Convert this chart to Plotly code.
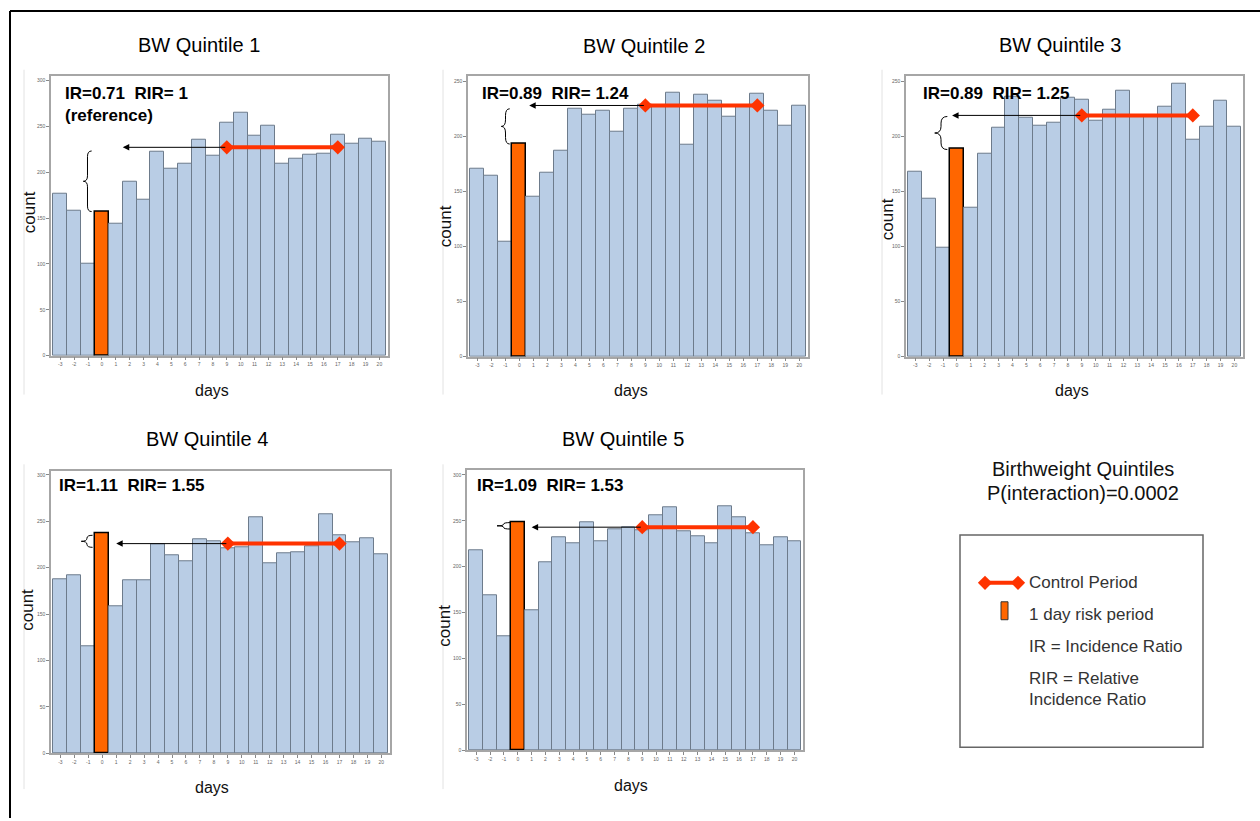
import plotly.graph_objects as go

W, H = 1260, 821

# ---------------- data ----------------
days = list(range(-3, 21))
day_labels = [str(d) for d in days]

q1 = [176, 158, 100, 157, 144, 190, 170, 222, 204, 209, 235, 218, 254, 265, 240, 251, 209, 215, 219, 220, 241, 231, 236, 233]
q2 = [171, 164, 104, 193, 145, 167, 187, 225, 220, 223, 204, 225, 229, 228, 240, 192, 238, 232, 218, 228, 239, 223, 210, 228]
q3 = [168, 143, 99, 189, 135, 184, 208, 236, 217, 210, 212, 235, 233, 214, 224, 241, 218, 218, 227, 248, 197, 209, 232, 209]
q4 = [188, 192, 115, 237, 158, 187, 187, 225, 213, 207, 231, 229, 221, 222, 254, 205, 216, 217, 223, 258, 235, 227, 232, 214]
q5 = [218, 169, 124, 248, 152, 205, 232, 226, 248, 228, 241, 243, 240, 256, 265, 239, 233, 226, 266, 254, 236, 223, 232, 228]
quintile_counts = [q1, q2, q3, q4, q5]

titles = ["BW Quintile 1", "BW Quintile 2", "BW Quintile 3", "BW Quintile 4", "BW Quintile 5"]
ir_text = ["IR=0.71  RIR= 1<br>(reference)", "IR=0.89  RIR= 1.24", "IR=0.89  RIR= 1.25",
           "IR=1.11  RIR= 1.55", "IR=1.09  RIR= 1.53"]
y_max = [305, 255, 255, 304, 305]
y_ticks = [[0, 50, 100, 150, 200, 250, 300], [0, 50, 100, 150, 200, 250],
           [0, 50, 100, 150, 200, 250], [0, 50, 100, 150, 200, 250, 300],
           [0, 50, 100, 150, 200, 250, 300]]

risk_day = 0
control_start = [9, 9, 9, 9, 9]
control_end = [17, 17, 17, 17, 17]
control_level = [227, 228, 219, 226, 243]
arrow_head_x = [1.5, 0.7, -0.35, 1.0, 1.0]
brace_top = [223, 225, 218, 235, 248]
brace_bottom = [157, 193, 188, 222, 241]
brace_left = [-1.34, -1.29, -1.6, -1.5, -1.5]
brace_right = [-0.74, -0.69, -0.69, -0.69, -0.55]

# ---------------- layout geometry (pixels) ----------------
panels = [  # left, right, top, bottom of plot frame
    (51, 388, 76, 357),
    (468, 808, 76, 358),
    (906, 1243, 76, 358),
    (51, 390, 473, 756),
    (467, 803, 472, 753),
]
title_pos = [(199, 45), (644, 46), (1060, 45), (207, 441), (623, 441)]
days_pos = [(212, 392), (631, 392), (1072, 392), (212, 790), (631, 788)]
count_pos = [(29, 213), (445, 227), (887, 220), (28, 612), (445, 628)]
ir_pos = [(63, 82), (480, 82), (921, 82), (57, 476), (475, 476)]  # top-left of text block
side_lines = [(24, 70, 396), (443, 70, 396), (882, 70, 396), (24, 466, 792), (443, 466, 792)]

BLUE = "#b9cde5"
BLUE_EDGE = "#6d7b8b"
ORANGE = "#ff6600"
RED = "#ff3300"
FONT = "Liberation Sans, Arial, sans-serif"


def px(x):
    return x / W


def py(y):
    return 1 - y / H


def text_ann(x, y, text, size, color="#000", xanchor="center", angle=0, yanchor="middle"):
    return dict(x=px(x), y=py(y), xref="paper", yref="paper", text=text,
                xanchor=xanchor, yanchor=yanchor, textangle=angle, showarrow=False,
                align="left", font=dict(size=size, family=FONT, color=color))


fig = go.Figure()
annotations = []
shapes = []

for i, counts in enumerate(quintile_counts):
    n = i + 1
    xa = "x" if n == 1 else f"x{n}"
    ya = "y" if n == 1 else f"y{n}"
    l, r, t, b = panels[i]
    colors = [ORANGE if d == risk_day else BLUE for d in days]
    edges = ["#000000" if d == risk_day else BLUE_EDGE for d in days]
    widths = [1.5 if d == risk_day else 1 for d in days]
    fig.add_trace(go.Bar(
        x=days, y=counts, xaxis=xa, yaxis=ya,
        marker=dict(color=colors, line=dict(color=edges, width=widths)),
        hoverinfo="x+y",
    ))
    # control period
    fig.add_trace(go.Scatter(
        x=[control_start[i], control_end[i]], y=[control_level[i], control_level[i]],
        xaxis=xa, yaxis=ya, mode="lines+markers",
        line=dict(color=RED, width=4),
        marker=dict(symbol="diamond", size=11, color=RED),
        cliponaxis=False,
    ))
    axis_common = dict(showline=True, mirror=True, linecolor="#a6a6a6", linewidth=1.5,
                       ticks="outside", ticklen=3, tickcolor="#888", showgrid=False,
                       zeroline=False, tickfont=dict(size=5, color="#666", family=FONT))
    fig.update_layout(**{
        ("xaxis" if n == 1 else f"xaxis{n}"): dict(
            domain=[px(l), px(r)], anchor=ya, range=[-3.67, 20.62],
            tickmode="array", tickvals=days, ticktext=day_labels, **axis_common),
        ("yaxis" if n == 1 else f"yaxis{n}"): dict(
            domain=[py(b), py(t)], anchor=xa, range=[0, y_max[i]],
            tickmode="array", tickvals=y_ticks[i], **axis_common),
    })
    # arrow from control period to risk period
    annotations.append(dict(
        x=arrow_head_x[i], y=control_level[i], ax=control_start[i], ay=control_level[i],
        xref=xa, yref=ya, axref=xa, ayref=ya, text="", showarrow=True,
        arrowhead=2, arrowsize=1.3, arrowwidth=1, arrowcolor="#000"))
    # brace
    xl, xr = brace_left[i], brace_right[i]
    xm = (xl + xr) / 2
    yt, yb = brace_top[i], brace_bottom[i]
    ym = (yt + yb) / 2
    d = min(6, (yt - yb) / 4)
    path = (f"M {xr},{yt} Q {xm},{yt} {xm},{yt - d} L {xm},{ym + d} "
            f"Q {xm},{ym} {xl},{ym} Q {xm},{ym} {xm},{ym - d} "
            f"L {xm},{yb + d} Q {xm},{yb} {xr},{yb}")
    shapes.append(dict(type="path", path=path, xref=xa, yref=ya,
                       line=dict(color="#000", width=1)))
    # texts
    tx, ty = title_pos[i]
    annotations.append(text_ann(tx, ty, titles[i], 20))
    dx, dy = days_pos[i]
    annotations.append(text_ann(dx, dy, "days", 16, "#111"))
    cx, cy = count_pos[i]
    annotations.append(text_ann(cx, cy, "count", 17, "#111", angle=-90))
    ix, iy = ir_pos[i]
    annotations.append(text_ann(ix, iy, f"<b>{ir_text[i]}</b>", 17, xanchor="left", yanchor="top"))
    sx, sy0, sy1 = side_lines[i]
    shapes.append(dict(type="line", xref="paper", yref="paper", x0=px(sx), x1=px(sx),
                       y0=py(sy0), y1=py(sy1), line=dict(color="#e2e2e2", width=1)))

# legend area
fig.add_trace(go.Scatter(x=[0, 1], y=[0.5, 0.5], xaxis="x6", yaxis="y6", mode="lines+markers",
                         line=dict(color=RED, width=4),
                         marker=dict(symbol="diamond", size=11, color=RED), cliponaxis=False))
fig.update_layout(
    xaxis6=dict(domain=[px(985), px(1018)], anchor="y6", range=[0, 1], visible=False),
    yaxis6=dict(domain=[py(590), py(580)], anchor="x6", range=[0, 1], visible=False),
)
shapes.append(dict(type="rect", xref="paper", yref="paper", x0=px(960), x1=px(1203),
                   y0=py(750), y1=py(537), line=dict(color="#666", width=1.5)))
shapes.append(dict(type="rect", xref="paper", yref="paper", x0=px(1001), x1=px(1008),
                   y0=py(622), y1=py(604), fillcolor=ORANGE, line=dict(color="#333", width=1)))
legend_lines = [("Control Period", 585), ("1 day risk period", 617),
                ("IR = Incidence Ratio", 649), ("RIR = Relative", 681), ("Incidence Ratio", 702)]
for txt, yy in legend_lines:
    annotations.append(text_ann(1027, yy, txt, 17, "#333", xanchor="left"))
annotations.append(text_ann(1083, 471, "Birthweight Quintiles", 20, "#111"))
annotations.append(text_ann(1083, 495, "P(interaction)=0.0002", 20, "#111"))

# outer frame
shapes.append(dict(type="line", xref="paper", yref="paper", x0=px(10), x1=1,
                   y0=py(11), y1=py(11), line=dict(color="#000", width=2)))
shapes.append(dict(type="line", xref="paper", yref="paper", x0=px(10), x1=px(10),
                   y0=py(11), y1=0, line=dict(color="#000", width=2)))

fig.update_layout(
    width=W, height=H, margin=dict(l=0, r=0, t=0, b=0),
    paper_bgcolor="white", plot_bgcolor="white", showlegend=False,
    bargap=0, annotations=annotations, shapes=shapes,
    font=dict(family=FONT),
)

fig.write_html("out.html", config={"displayModeBar": False})
